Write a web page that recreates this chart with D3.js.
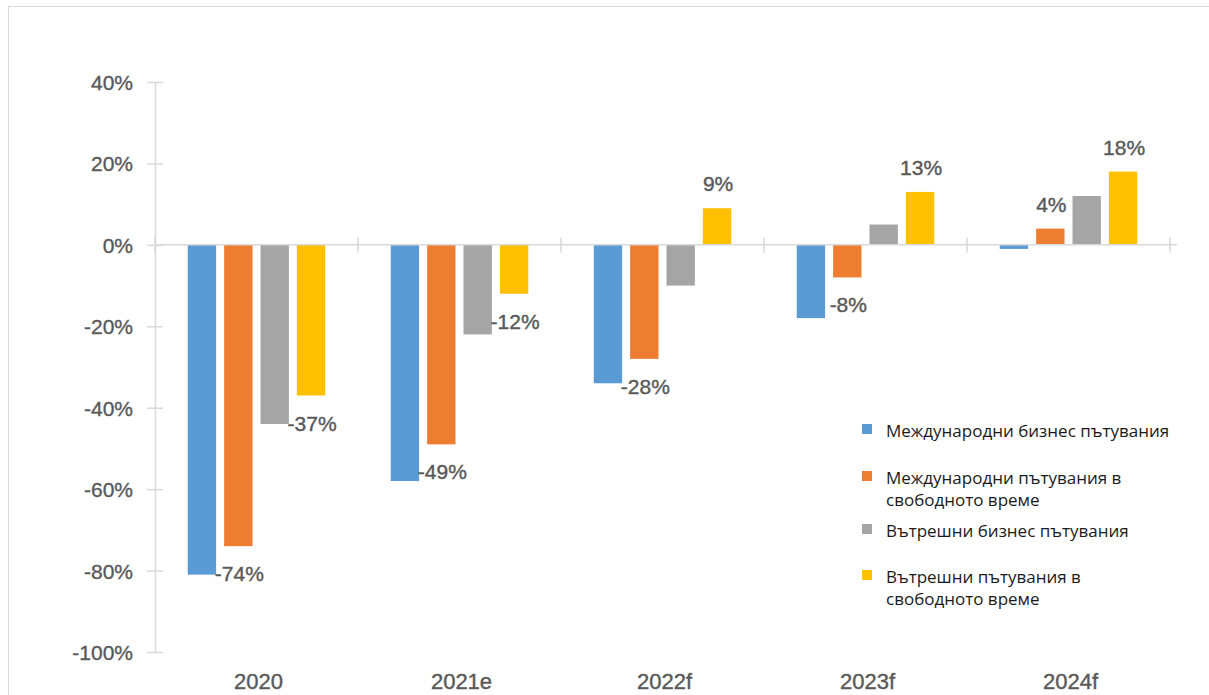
<!DOCTYPE html>
<html>
<head>
<meta charset="utf-8">
<script src="https://cdn.jsdelivr.net/npm/d3@7"></script>
<style>
  body { margin: 0; background: #fff; }
  .tick text { font-family: "Liberation Sans", Arial, sans-serif; fill: #595959; stroke: #595959; stroke-width: 0.35px; }
  .lbl { font-family: "Liberation Sans", Arial, sans-serif; fill: #595959; stroke: #595959; stroke-width: 0.4px; font-size: 21px; }
  .legend text { font-family: "Open Sans", sans-serif; fill: #1a1a1a; font-size: 17px; }
</style>
</head>
<body>
<script>
// categories and series
var years = ["2020", "2021e", "2022f", "2023f", "2024f"];
var seriesNames = [
    ["Международни бизнес пътувания"],
    ["Международни пътувания в", "свободното време"],
    ["Вътрешни бизнес пътувания"],
    ["Вътрешни пътувания в", "свободното време"]
];
var colors = ["#5B9BD5", "#ED7D31", "#A5A5A5", "#FFC000"];

var intlBusiness = [-81, -58, -34, -18, -1];
var intlLeisure  = [-74, -49, -28, -8, 4];
var domBusiness  = [-44, -22, -10, 5, 12];
var domLeisure   = [-37, -12, 9, 13, 18];
var values = [intlBusiness, intlLeisure, domBusiness, domLeisure];

// only these series carry data labels
var labelledSeries = [1, 3];

var yTicks = [40, 20, 0, -20, -40, -60, -80, -100];

window.onload = function(){
    var svg = d3.select("body").append("svg")
        .attr("width", 1209)
        .attr("height", 695);

    // outer frame
    svg.append("rect")
        .attr("x", 8.5).attr("y", 6.5)
        .attr("width", 1300).attr("height", 800)
        .style("fill", "none")
        .style("stroke", "#d9d9d9");

    var x0 = d3.scaleBand()
        .domain(years)
        .range([155, 1170]);

    var x1 = d3.scaleBand()
        .domain(d3.range(4))
        .range([0, x0.bandwidth()])
        .paddingInner(0.22)
        .paddingOuter(0.9);

    var y = d3.scaleLinear()
        .domain([-100, 40])
        .range([652, 82]);

    // y axis
    var yAxis = svg.append("g")
        .attr("transform", "translate(155,0)")
        .call(d3.axisLeft(y).tickValues(yTicks).tickFormat(function(d){ return d + "%"; })
            .tickSize(0).tickPadding(22));
    yAxis.select(".domain").style("stroke", "#d9d9d9").style("stroke-width", 1.5);
    yAxis.selectAll(".tick text").style("font-size", "21px").attr("dy", "0.36em");
    yAxis.selectAll(".tick").append("line")
        .attr("x1", -8).attr("x2", 8)
        .style("stroke", "#d9d9d9").style("stroke-width", 1.5);

    // bars
    var groups = svg.selectAll(".grp")
        .data(years)
        .enter()
        .append("g")
        .attr("class", "grp")
        .attr("transform", function(d){ return "translate(" + x0(d) + ",0)"; });

    groups.selectAll("rect")
        .data(function(d, i){ return values.map(function(s, k){ return {k: k, v: s[i]}; }); })
        .enter()
        .append("rect")
        .attr("x", function(d){ return x1(d.k); })
        .attr("width", x1.bandwidth())
        .attr("y", function(d){ return y(Math.max(0, d.v)); })
        .attr("height", function(d){ return Math.abs(y(d.v) - y(0)); })
        .style("fill", function(d){ return colors[d.k]; });

    // zero line with category ticks
    svg.append("line")
        .attr("x1", 155).attr("x2", 1177)
        .attr("y1", y(0)).attr("y2", y(0))
        .style("stroke", "#d9d9d9").style("stroke-width", 1.5);
    svg.selectAll(".ctick")
        .data(years.concat(["end"]))
        .enter()
        .append("line")
        .attr("class", "ctick")
        .attr("x1", function(d, i){ return 155 + i * x0.step(); })
        .attr("x2", function(d, i){ return 155 + i * x0.step(); })
        .attr("y1", y(0) - 7).attr("y2", y(0) + 8)
        .style("stroke", "#d9d9d9").style("stroke-width", 1.5);

    // x labels at bottom
    svg.selectAll(".xl")
        .data(years)
        .enter()
        .append("text")
        .attr("class", "lbl")
        .attr("x", function(d){ return x0(d) + x0.bandwidth() / 2 + 2; })
        .attr("y", 689)
        .attr("text-anchor", "middle")
        .style("font-size", "22px")
        .text(function(d){ return d; });

    // data labels
    labelledSeries.forEach(function(k){
        svg.selectAll(".dl" + k)
            .data(values[k])
            .enter()
            .append("text")
            .attr("class", "lbl")
            .attr("text-anchor", "middle")
            .attr("x", function(d, i){ return x0(years[i]) + x1(k) + x1.bandwidth() / 2 + 1; })
            .attr("y", function(d){ return d >= 0 ? y(d) - 17 : y(d) + 35; })
            .text(function(d){ return d + "%"; });
    });

    // legend
    var legendY = [431, 478, 531, 577];
    var legend = svg.append("g").attr("class", "legend");
    seriesNames.forEach(function(lines, k){
        legend.append("rect")
            .attr("x", 862).attr("y", legendY[k] - 7)
            .attr("width", 10).attr("height", 10)
            .style("fill", colors[k]);
        var t = legend.append("text")
            .attr("x", 886)
            .attr("y", legendY[k] + 6);
        lines.forEach(function(s, j){
            t.append("tspan")
                .attr("x", 886)
                .attr("dy", j === 0 ? 0 : 22)
                .text(s);
        });
    });
};
</script>
</body>
</html>
